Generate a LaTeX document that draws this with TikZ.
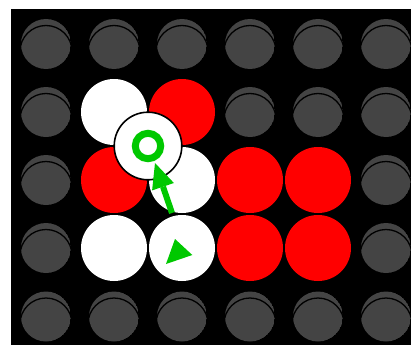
\documentclass[tikz,border=0pt]{standalone}
\definecolor{hole}{RGB}{68,68,68}
\definecolor{grn}{RGB}{0,200,0}
\definecolor{rd}{RGB}{255,0,0}
\tikzset{
  hole/.pic={
    \begin{scope}
    \clip (0,0) circle (25);
    \fill[hole] (0,0) circle (25);
    \draw[black,line width=1.3pt] (0,7.5) circle (26);
    \end{scope}
  },
  wdisk/.style={fill=white},
  rdisk/.style={fill=rd},
}
\begin{document}
\begin{tikzpicture}[x=1pt,y=-1pt]
\useasboundingbox (0,0) rectangle (411,345);
\fill[white] (0,0) rectangle (411,345);
\begin{scope}
\clip (11,9) rectangle (411,345);
\fill[black] (11,9) rectangle (411,345);
% holes
\foreach \x in {46,114,182,250,318,386} {
  \pic at (\x,44) {hole};
  \pic at (\x,316.5) {hole};
}
\foreach \y in {112,180,248} {
  \pic at (46,\y) {hole};
  \pic at (386,\y) {hole};
}
\pic at (250,112) {hole};
\pic at (318,112) {hole};
% colored disks
\fill[wdisk] (114,112) circle (33);
\fill[rdisk] (182,112) circle (33);
\fill[rdisk] (114,180) circle (33);
\fill[wdisk] (182,180) circle (33);
\fill[rdisk] (250,180) circle (33);
\fill[rdisk] (318,180) circle (33);
\fill[wdisk] (114,248) circle (33);
\fill[wdisk] (182,248) circle (33);
\fill[rdisk] (250,248) circle (33);
\fill[rdisk] (318,248) circle (33);
% selected disk
\filldraw[fill=white,draw=black,line width=1.6pt] (148,146) circle (33.8);
\draw[grn,line width=7pt] (148,146) circle (12.7);
% arrow
\coordinate (tail) at (172,213);
\coordinate (base) at (163,186.7);
\coordinate (tip) at (155,163);
\draw[grn,line width=6pt] (tail) -- (base);
\fill[grn] (tip) -- (173.9,183) -- (152.1,190.4) -- cycle;
% triangle
\fill[grn] (166,264) -- (175,239) -- (192.3,255) -- cycle;
\end{scope}
\end{tikzpicture}
\end{document}
